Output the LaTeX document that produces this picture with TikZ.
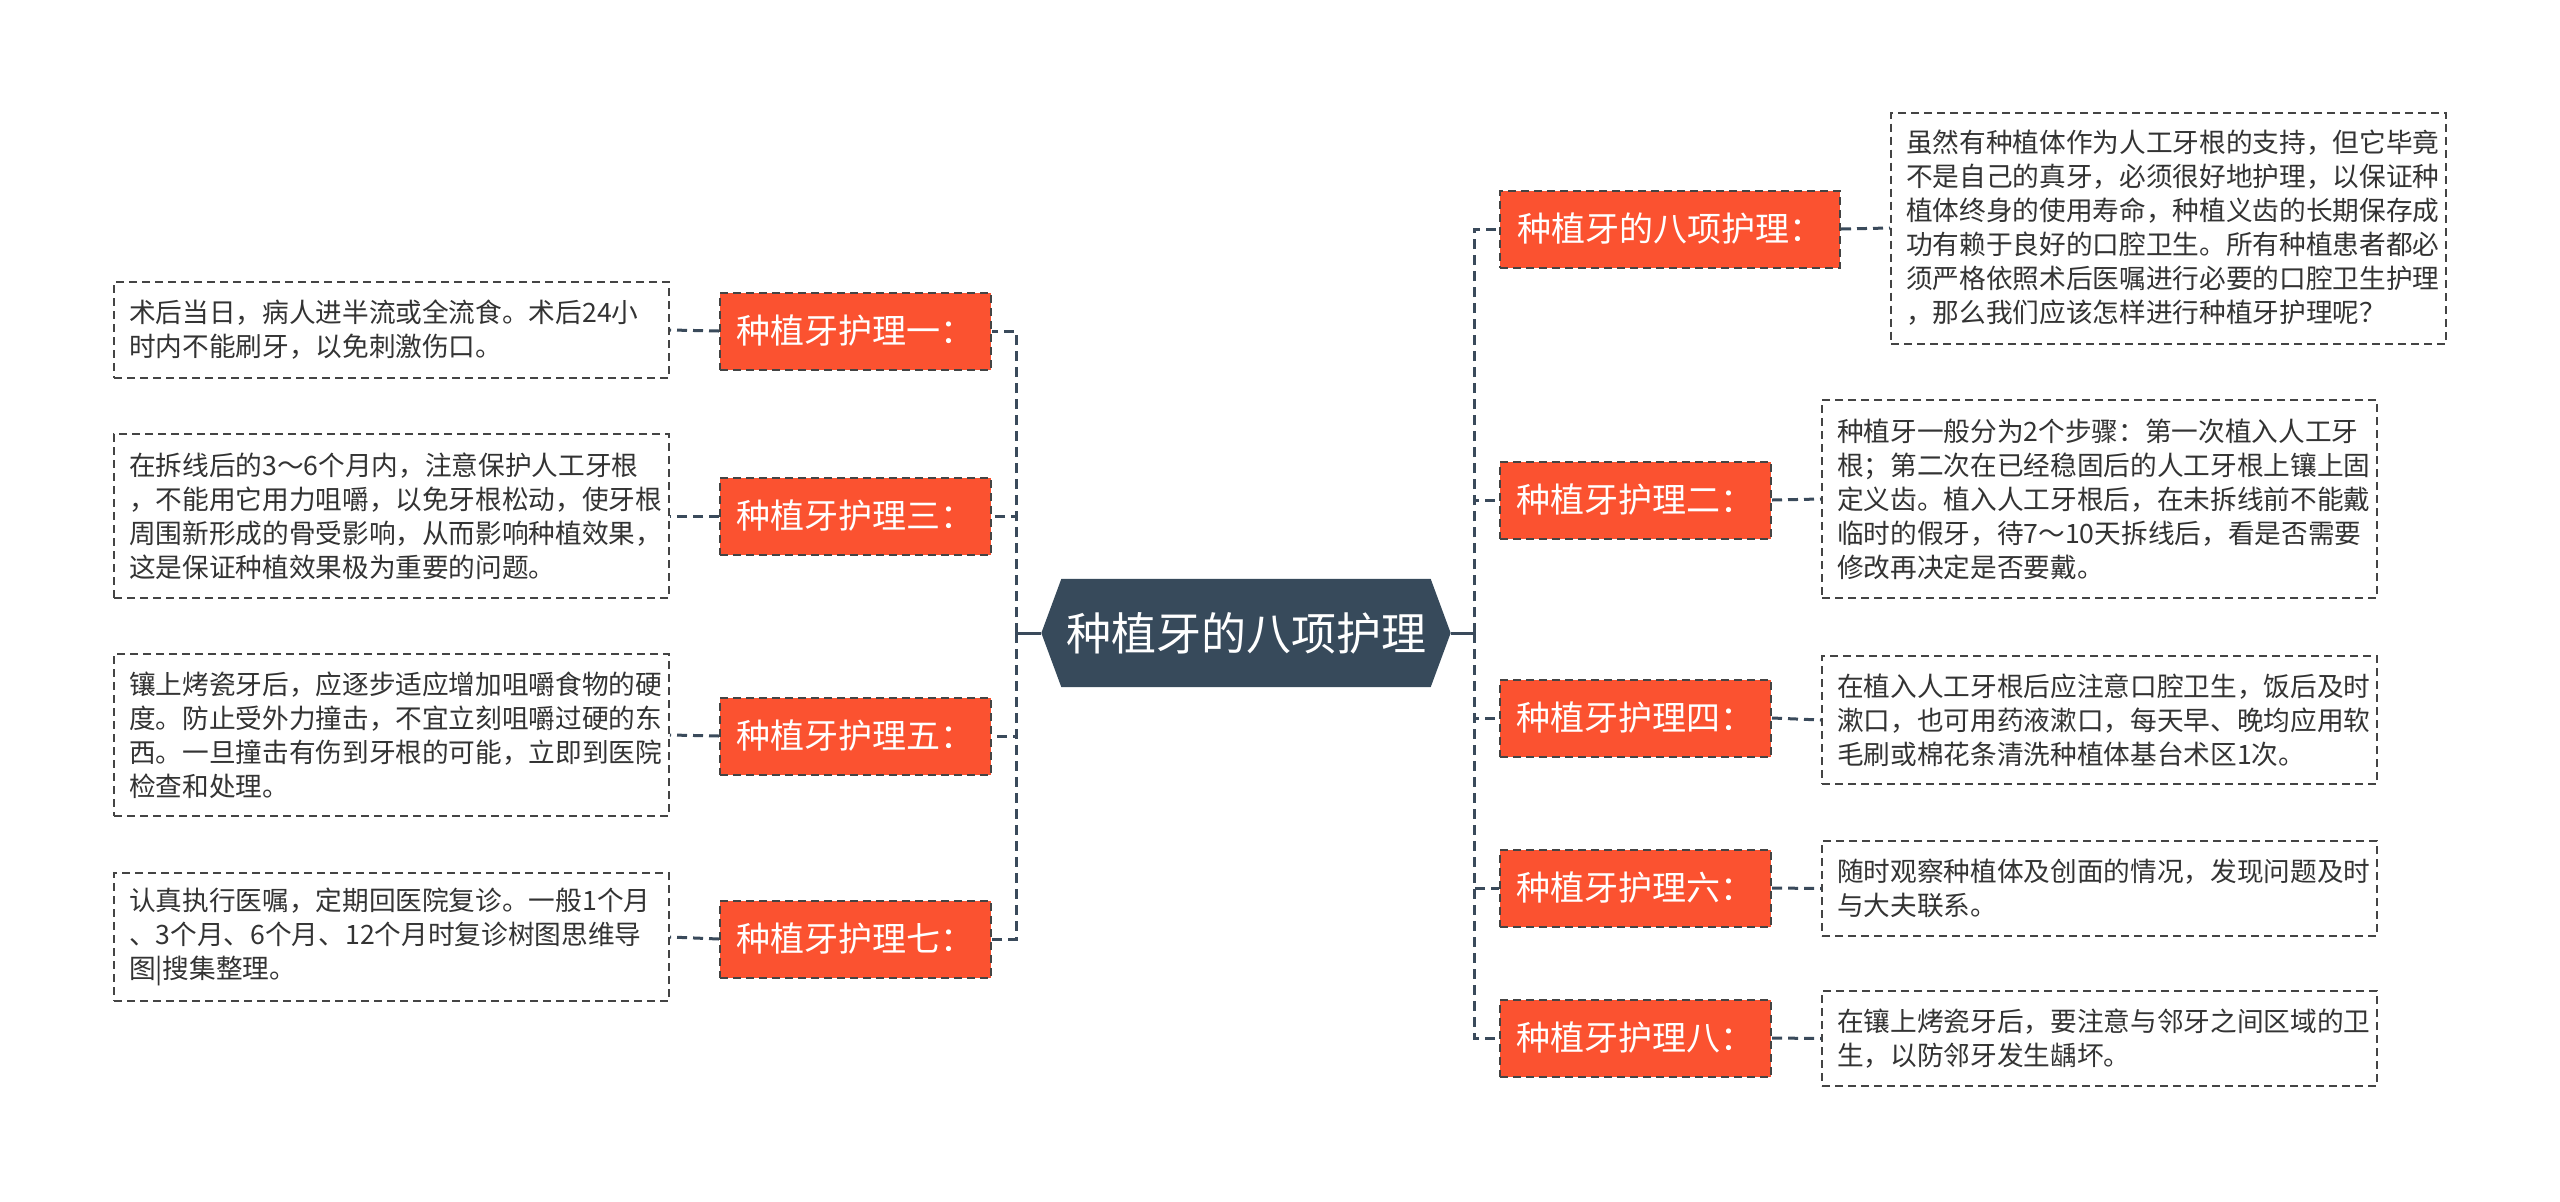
\documentclass[tikz,border=0pt]{standalone}
\usepackage{fontspec}
\setmainfont{Noto Sans CJK SC}
\definecolor{rootc}{HTML}{374A5B}
\definecolor{linkc}{HTML}{3A4A5B}
\definecolor{orangec}{HTML}{FB5230}
\definecolor{boxc}{HTML}{444444}
\definecolor{txtc}{HTML}{333333}
\tikzset{
  link/.style={draw=linkc, line width=0.9pt, dash pattern=on 3pt off 1.8pt},
  rootlink/.style={draw=linkc, line width=0.9pt},
  leaf/.style={draw=boxc, line width=0.6pt, dash pattern=on 2.4pt off 1.5pt, fill=white,
    text=txtc, align=left, text width=157.5pt, inner xsep=4.5pt, inner ysep=0pt,
    font=\fontsize{8pt}{10.2pt}\selectfont},
  topic/.style={draw=boxc, line width=0.6pt, dash pattern=on 2.4pt off 1.5pt, fill=orangec,
    text=white, minimum width=81.3pt, minimum height=23.1pt, inner sep=0pt,
    font=\fontsize{10.2pt}{12pt}\selectfont},
  rootbox/.style={rectangle, minimum width=122.4pt, minimum height=32.1pt, inner sep=0pt},
  roottext/.style={text=white, inner sep=0pt, font=\fontsize{13.5pt}{16pt}\selectfont}
}
\begin{document}
\begin{tikzpicture}[x=0.3pt,y=-0.3pt]
\useasboundingbox (0,0) rectangle (2560,1201);
\fill[white] (0,0) rectangle (2560,1201);

% root
\node[rootbox] (root) at (1246,633) {};
\fill[rootc] (root.west) -- ([xshift=6pt]root.north west) -- ([xshift=-6pt]root.north east)
  -- (root.east) -- ([xshift=-6pt]root.south east) -- ([xshift=6pt]root.south west) -- cycle;
\node[roottext] (roottxt) at (root.center) {种植牙的八项护理};

\coordinate (LB) at (1016,633);
\coordinate (RB) at (1474,633);

% left topics
\node[topic] (n1) at (855.5,331) {种植牙护理一：};
\node[topic] (n3) at (855.5,516) {种植牙护理三：};
\node[topic] (n5) at (855.5,736) {种植牙护理五：};
\node[topic] (n7) at (855.5,939) {种植牙护理七：};

% right topics
\node[topic, minimum width=102pt] (m0) at (1670,229) {种植牙的八项护理：};
\node[topic] (m2) at (1635.5,500) {种植牙护理二：};
\node[topic] (m4) at (1635.5,718) {种植牙护理四：};
\node[topic] (m6) at (1635.5,888) {种植牙护理六：};
\node[topic] (m8) at (1635.5,1038) {种植牙护理八：};

% left leaves
\node[leaf, minimum height=28.8pt] (t1) at (391.5,330) {术后当日，病人进半流或全流食。术后24小\\时内不能刷牙，以免刺激伤口。};
\node[leaf, minimum height=49.2pt] (t3) at (391.5,516) {在拆线后的3～6个月内，注意保护人工牙根\\，不能用它用力咀嚼，以免牙根松动，使牙根\\周围新形成的骨受影响，从而影响种植效果，\\这是保证种植效果极为重要的问题。};
\node[leaf, minimum height=48.6pt] (t5) at (391.5,735) {镶上烤瓷牙后，应逐步适应增加咀嚼食物的硬\\度。防止受外力撞击，不宜立刻咀嚼过硬的东\\西。一旦撞击有伤到牙根的可能，立即到医院\\检查和处理。};
\node[leaf, minimum height=38.4pt] (t7) at (391.5,937) {认真执行医嘱，定期回医院复诊。一般1个月\\、3个月、6个月、12个月时复诊树图思维导\\图|搜集整理。};

% right leaves
\node[leaf, minimum height=69.3pt] (u0) at (2168.5,228) {虽然有种植体作为人工牙根的支持，但它毕竟\\不是自己的真牙，必须很好地护理，以保证种\\植体终身的使用寿命，种植义齿的长期保存成\\功有赖于良好的口腔卫生。所有种植患者都必\\须严格依照术后医嘱进行必要的口腔卫生护理\\，那么我们应该怎样进行种植牙护理呢？};
\node[leaf, minimum height=59.4pt] (u2) at (2099.5,499) {种植牙一般分为2个步骤：第一次植入人工牙\\根；第二次在已经稳固后的人工牙根上镶上固\\定义齿。植入人工牙根后，在未拆线前不能戴\\临时的假牙，待7～10天拆线后，看是否需要\\修改再决定是否要戴。};
\node[leaf, minimum height=38.4pt] (u4) at (2099.5,720) {在植入人工牙根后应注意口腔卫生，饭后及时\\漱口，也可用药液漱口，每天早、晚均应用软\\毛刷或棉花条清洗种植体基台术区1次。};
\node[leaf, minimum height=28.5pt] (u6) at (2099.5,888.5) {随时观察种植体及创面的情况，发现问题及时\\与大夫联系。};
\node[leaf, minimum height=28.5pt] (u8) at (2099.5,1038.5) {在镶上烤瓷牙后，要注意与邻牙之间区域的卫\\生，以防邻牙发生龋坏。};

% root to buses
\draw[rootlink] (root.west) -- (LB);
\draw[rootlink] (root.east) -- (RB);
\draw[linkc, line width=0.9pt] ([yshift=-2pt]LB) -- ([yshift=2pt]LB);
\draw[linkc, line width=0.9pt] ([yshift=-2pt]RB) -- ([yshift=2pt]RB);

% buses to topics
\foreach \n in {n1,n3,n5,n7} \draw[link] (LB) |- (\n.east);
\foreach \m in {m0,m2,m4,m6,m8} \draw[link] (RB) |- (\m.west);

% topics to leaves
\draw[link] (n1.west) -- (t1.east);
\draw[link] (n3.west) -- (t3.east);
\draw[link] (n5.west) -- (t5.east);
\draw[link] (n7.west) -- (t7.east);
\draw[link] (m0.east) -- (u0.west);
\draw[link] (m2.east) -- (u2.west);
\draw[link] (m4.east) -- (u4.west);
\draw[link] (m6.east) -- (u6.west);
\draw[link] (m8.east) -- (u8.west);
\end{tikzpicture}
\end{document}
